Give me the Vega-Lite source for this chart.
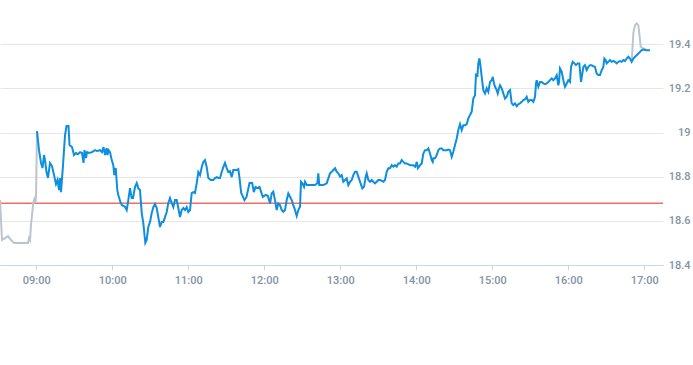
{
  "$schema": "https://vega.github.io/schema/vega-lite/v6.json",
  "width": 663,
  "height": 265,
  "autosize": "none",
  "padding": {"left": 0, "top": 0, "right": 30, "bottom": 100},
  "config": {
    "view": {"stroke": null},
    "axis": {"labelFont": "Roboto", "labelFontSize": 11, "labelFontWeight": 500, "labelColor": "#8393a3"}
  },
  "layer": [
    {
      "data": {"values": [{"prev": 18.68}]},
      "mark": {"type": "rule", "color": "#e3261c", "strokeWidth": 1},
      "encoding": {
        "y": {"field": "prev", "type": "quantitative", "scale": {"domain": [18.4, 19.6], "zero": false, "nice": false},
          "axis": {"title": null, "orient": "right", "values": [18.4, 18.6, 18.8, 19, 19.2, 19.4], "format": "~g", "grid": true, "gridColor": "#e6e6e6", "domain": false, "ticks": false, "labelAlign": "right", "labelPadding": 27}}
      }
    },
    {
      "data": {
        "values": [
          {"t": "2024-01-02T08:31:20", "p": 18.694}, {"t": "2024-01-02T08:32:55", "p": 18.513}, {"t": "2024-01-02T08:35:17", "p": 18.522}, {"t": "2024-01-02T08:37:39", "p": 18.531},
          {"t": "2024-01-02T08:40:01", "p": 18.513}, {"t": "2024-01-02T08:42:24", "p": 18.5}, {"t": "2024-01-02T08:53:27", "p": 18.5}, {"t": "2024-01-02T08:54:14", "p": 18.522},
          {"t": "2024-01-02T08:55:02", "p": 18.513}, {"t": "2024-01-02T08:55:49", "p": 18.581}, {"t": "2024-01-02T08:57:24", "p": 18.671}, {"t": "2024-01-02T08:58:11", "p": 18.694},
          {"t": "2024-01-02T08:58:58", "p": 18.708}, {"t": "2024-01-02T08:59:22", "p": 18.68}, {"t": "2024-01-02T08:59:46", "p": 18.717}, {"t": "2024-01-02T09:00:33", "p": 19.006}
        ]
      },
      "mark": {"type": "line", "color": "#bcc5ce", "strokeWidth": 2},
      "encoding": {
        "x": {"field": "t", "type": "temporal"},
        "y": {"field": "p", "type": "quantitative"}
      }
    },
    {
      "data": {
        "values": [
          {"t": "2024-01-02T16:50:02", "p": 19.32}, {"t": "2024-01-02T16:51:21", "p": 19.45}, {"t": "2024-01-02T16:52:40", "p": 19.486}, {"t": "2024-01-02T16:53:59", "p": 19.494},
          {"t": "2024-01-02T16:55:18", "p": 19.486}, {"t": "2024-01-02T16:56:37", "p": 19.418}, {"t": "2024-01-02T16:57:08", "p": 19.388}, {"t": "2024-01-02T16:59:14", "p": 19.381},
          {"t": "2024-01-02T17:01:53", "p": 19.373}
        ]
      },
      "mark": {"type": "line", "color": "#bcc5ce", "strokeWidth": 2},
      "encoding": {
        "x": {"field": "t", "type": "temporal"},
        "y": {"field": "p", "type": "quantitative"}
      }
    },
    {
      "data": {
        "values": [
          {"t": "2024-01-02T09:00:33", "p": 19.006}, {"t": "2024-01-02T09:02:08", "p": 18.92}, {"t": "2024-01-02T09:03:43", "p": 18.862}, {"t": "2024-01-02T09:04:54", "p": 18.839},
          {"t": "2024-01-02T09:06:05", "p": 18.898}, {"t": "2024-01-02T09:06:52", "p": 18.875}, {"t": "2024-01-02T09:08:03", "p": 18.821}, {"t": "2024-01-02T09:09:14", "p": 18.794},
          {"t": "2024-01-02T09:10:49", "p": 18.862}, {"t": "2024-01-02T09:12:24", "p": 18.848}, {"t": "2024-01-02T09:13:59", "p": 18.807}, {"t": "2024-01-02T09:15:33", "p": 18.767},
          {"t": "2024-01-02T09:16:44", "p": 18.785}, {"t": "2024-01-02T09:17:55", "p": 18.739}, {"t": "2024-01-02T09:18:43", "p": 18.794}, {"t": "2024-01-02T09:19:30", "p": 18.73},
          {"t": "2024-01-02T09:21:05", "p": 18.852}, {"t": "2024-01-02T09:22:40", "p": 18.988}, {"t": "2024-01-02T09:23:51", "p": 19.029}, {"t": "2024-01-02T09:25:25", "p": 19.029},
          {"t": "2024-01-02T09:26:13", "p": 18.943}, {"t": "2024-01-02T09:28:11", "p": 18.934}, {"t": "2024-01-02T09:29:46", "p": 18.898}, {"t": "2024-01-02T09:31:21", "p": 18.907},
          {"t": "2024-01-02T09:32:55", "p": 18.902}, {"t": "2024-01-02T09:34:30", "p": 18.911}, {"t": "2024-01-02T09:36:05", "p": 18.907}, {"t": "2024-01-02T09:37:16", "p": 18.862},
          {"t": "2024-01-02T09:38:03", "p": 18.92}, {"t": "2024-01-02T09:39:14", "p": 18.884}, {"t": "2024-01-02T09:40:02", "p": 18.911}, {"t": "2024-01-02T09:41:37", "p": 18.907},
          {"t": "2024-01-02T09:43:59", "p": 18.911}, {"t": "2024-01-02T09:46:21", "p": 18.92}, {"t": "2024-01-02T09:47:55", "p": 18.916}, {"t": "2024-01-02T09:50:17", "p": 18.92},
          {"t": "2024-01-02T09:51:52", "p": 18.911}, {"t": "2024-01-02T09:53:03", "p": 18.934}, {"t": "2024-01-02T09:54:14", "p": 18.898}, {"t": "2024-01-02T09:55:25", "p": 18.929},
          {"t": "2024-01-02T09:56:13", "p": 18.898}, {"t": "2024-01-02T09:57:00", "p": 18.92}, {"t": "2024-01-02T09:58:11", "p": 18.911}, {"t": "2024-01-02T09:59:32", "p": 18.875},
          {"t": "2024-01-02T10:00:47", "p": 18.852}, {"t": "2024-01-02T10:01:35", "p": 18.807}, {"t": "2024-01-02T10:02:41", "p": 18.839}, {"t": "2024-01-02T10:03:57", "p": 18.739},
          {"t": "2024-01-02T10:04:44", "p": 18.717}, {"t": "2024-01-02T10:06:38", "p": 18.681}, {"t": "2024-01-02T10:07:39", "p": 18.671}, {"t": "2024-01-02T10:10:01", "p": 18.664},
          {"t": "2024-01-02T10:11:22", "p": 18.649}, {"t": "2024-01-02T10:12:24", "p": 18.685}, {"t": "2024-01-02T10:13:58", "p": 18.748}, {"t": "2024-01-02T10:15:19", "p": 18.703},
          {"t": "2024-01-02T10:16:20", "p": 18.703}, {"t": "2024-01-02T10:17:55", "p": 18.753}, {"t": "2024-01-02T10:19:16", "p": 18.771}, {"t": "2024-01-02T10:20:31", "p": 18.748},
          {"t": "2024-01-02T10:21:52", "p": 18.739}, {"t": "2024-01-02T10:23:13", "p": 18.635}, {"t": "2024-01-02T10:24:28", "p": 18.59}, {"t": "2024-01-02T10:25:16", "p": 18.545},
          {"t": "2024-01-02T10:26:03", "p": 18.5}, {"t": "2024-01-02T10:27:09", "p": 18.513}, {"t": "2024-01-02T10:28:25", "p": 18.572}, {"t": "2024-01-02T10:29:46", "p": 18.595},
          {"t": "2024-01-02T10:31:06", "p": 18.635}, {"t": "2024-01-02T10:32:22", "p": 18.662}, {"t": "2024-01-02T10:33:43", "p": 18.676}, {"t": "2024-01-02T10:35:03", "p": 18.658},
          {"t": "2024-01-02T10:36:19", "p": 18.617}, {"t": "2024-01-02T10:37:39", "p": 18.572}, {"t": "2024-01-02T10:39:00", "p": 18.595}, {"t": "2024-01-02T10:40:16", "p": 18.595},
          {"t": "2024-01-02T10:41:36", "p": 18.617}, {"t": "2024-01-02T10:42:57", "p": 18.64}, {"t": "2024-01-02T10:44:13", "p": 18.681}, {"t": "2024-01-02T10:45:33", "p": 18.703},
          {"t": "2024-01-02T10:46:54", "p": 18.681}, {"t": "2024-01-02T10:48:09", "p": 18.662}, {"t": "2024-01-02T10:49:30", "p": 18.694}, {"t": "2024-01-02T10:50:51", "p": 18.694},
          {"t": "2024-01-02T10:52:06", "p": 18.658}, {"t": "2024-01-02T10:53:27", "p": 18.617}, {"t": "2024-01-02T10:54:47", "p": 18.649}, {"t": "2024-01-02T10:56:03", "p": 18.658},
          {"t": "2024-01-02T10:57:24", "p": 18.649}, {"t": "2024-01-02T10:58:44", "p": 18.662}, {"t": "2024-01-02T11:00:00", "p": 18.64}, {"t": "2024-01-02T11:01:21", "p": 18.649},
          {"t": "2024-01-02T11:02:41", "p": 18.726}, {"t": "2024-01-02T11:03:57", "p": 18.73}, {"t": "2024-01-02T11:05:17", "p": 18.726}, {"t": "2024-01-02T11:06:38", "p": 18.771},
          {"t": "2024-01-02T11:07:54", "p": 18.821}, {"t": "2024-01-02T11:09:14", "p": 18.807}, {"t": "2024-01-02T11:10:35", "p": 18.843}, {"t": "2024-01-02T11:11:50", "p": 18.866},
          {"t": "2024-01-02T11:13:11", "p": 18.875}, {"t": "2024-01-02T11:14:32", "p": 18.843}, {"t": "2024-01-02T11:15:47", "p": 18.794}, {"t": "2024-01-02T11:17:41", "p": 18.785},
          {"t": "2024-01-02T11:19:44", "p": 18.785}, {"t": "2024-01-02T11:21:05", "p": 18.794}, {"t": "2024-01-02T11:22:25", "p": 18.798}, {"t": "2024-01-02T11:23:41", "p": 18.794},
          {"t": "2024-01-02T11:25:02", "p": 18.794}, {"t": "2024-01-02T11:26:22", "p": 18.821}, {"t": "2024-01-02T11:27:38", "p": 18.843}, {"t": "2024-01-02T11:28:58", "p": 18.862},
          {"t": "2024-01-02T11:30:19", "p": 18.839}, {"t": "2024-01-02T11:31:35", "p": 18.821}, {"t": "2024-01-02T11:32:55", "p": 18.825}, {"t": "2024-01-02T11:34:16", "p": 18.798},
          {"t": "2024-01-02T11:35:32", "p": 18.83}, {"t": "2024-01-02T11:38:13", "p": 18.83}, {"t": "2024-01-02T11:39:28", "p": 18.834}, {"t": "2024-01-02T11:40:25", "p": 18.794},
          {"t": "2024-01-02T11:41:46", "p": 18.726}, {"t": "2024-01-02T11:44:22", "p": 18.694}, {"t": "2024-01-02T11:45:57", "p": 18.708}, {"t": "2024-01-02T11:48:19", "p": 18.771},
          {"t": "2024-01-02T11:50:27", "p": 18.771}, {"t": "2024-01-02T11:51:43", "p": 18.73}, {"t": "2024-01-02T11:53:03", "p": 18.753}, {"t": "2024-01-02T11:54:38", "p": 18.748},
          {"t": "2024-01-02T11:56:13", "p": 18.753}, {"t": "2024-01-02T11:57:33", "p": 18.73}, {"t": "2024-01-02T11:58:49", "p": 18.708}, {"t": "2024-01-02T12:00:57", "p": 18.717},
          {"t": "2024-01-02T12:02:46", "p": 18.713}, {"t": "2024-01-02T12:04:35", "p": 18.679}, {"t": "2024-01-02T12:05:50", "p": 18.724}, {"t": "2024-01-02T12:07:06", "p": 18.732},
          {"t": "2024-01-02T12:08:26", "p": 18.694}, {"t": "2024-01-02T12:09:47", "p": 18.649}, {"t": "2024-01-02T12:11:03", "p": 18.679}, {"t": "2024-01-02T12:12:23", "p": 18.671},
          {"t": "2024-01-02T12:13:44", "p": 18.649}, {"t": "2024-01-02T12:15:00", "p": 18.641}, {"t": "2024-01-02T12:16:20", "p": 18.649}, {"t": "2024-01-02T12:17:41", "p": 18.694},
          {"t": "2024-01-02T12:18:57", "p": 18.724}, {"t": "2024-01-02T12:20:17", "p": 18.709}, {"t": "2024-01-02T12:21:38", "p": 18.694}, {"t": "2024-01-02T12:22:54", "p": 18.671},
          {"t": "2024-01-02T12:24:14", "p": 18.649}, {"t": "2024-01-02T12:25:35", "p": 18.622}, {"t": "2024-01-02T12:26:51", "p": 18.649}, {"t": "2024-01-02T12:28:11", "p": 18.664},
          {"t": "2024-01-02T12:28:58", "p": 18.777}, {"t": "2024-01-02T12:30:00", "p": 18.77}, {"t": "2024-01-02T12:31:20", "p": 18.754}, {"t": "2024-01-02T12:32:08", "p": 18.777},
          {"t": "2024-01-02T12:33:28", "p": 18.762}, {"t": "2024-01-02T12:36:04", "p": 18.762}, {"t": "2024-01-02T12:40:01", "p": 18.762}, {"t": "2024-01-02T12:41:50", "p": 18.77},
          {"t": "2024-01-02T12:42:38", "p": 18.815}, {"t": "2024-01-02T12:43:25", "p": 18.762}, {"t": "2024-01-02T12:46:35", "p": 18.762}, {"t": "2024-01-02T12:49:16", "p": 18.77},
          {"t": "2024-01-02T12:50:32", "p": 18.792}, {"t": "2024-01-02T12:51:52", "p": 18.815}, {"t": "2024-01-02T12:53:13", "p": 18.822}, {"t": "2024-01-02T12:54:29", "p": 18.83},
          {"t": "2024-01-02T12:55:49", "p": 18.838}, {"t": "2024-01-02T12:57:10", "p": 18.822}, {"t": "2024-01-02T12:58:26", "p": 18.815}, {"t": "2024-01-02T12:59:46", "p": 18.8},
          {"t": "2024-01-02T13:01:07", "p": 18.807}, {"t": "2024-01-02T13:02:22", "p": 18.777}, {"t": "2024-01-02T13:03:43", "p": 18.785}, {"t": "2024-01-02T13:05:03", "p": 18.792},
          {"t": "2024-01-02T13:06:19", "p": 18.762}, {"t": "2024-01-02T13:07:40", "p": 18.777}, {"t": "2024-01-02T13:09:00", "p": 18.785}, {"t": "2024-01-02T13:10:16", "p": 18.807},
          {"t": "2024-01-02T13:11:36", "p": 18.822}, {"t": "2024-01-02T13:12:57", "p": 18.822}, {"t": "2024-01-02T13:14:13", "p": 18.8}, {"t": "2024-01-02T13:15:33", "p": 18.777},
          {"t": "2024-01-02T13:17:22", "p": 18.747}, {"t": "2024-01-02T13:18:43", "p": 18.754}, {"t": "2024-01-02T13:20:03", "p": 18.8}, {"t": "2024-01-02T13:20:50", "p": 18.815},
          {"t": "2024-01-02T13:22:07", "p": 18.785}, {"t": "2024-01-02T13:23:27", "p": 18.777}, {"t": "2024-01-02T13:24:48", "p": 18.785}, {"t": "2024-01-02T13:26:03", "p": 18.777},
          {"t": "2024-01-02T13:27:24", "p": 18.77}, {"t": "2024-01-02T13:28:44", "p": 18.777}, {"t": "2024-01-02T13:30:00", "p": 18.785}, {"t": "2024-01-02T13:31:21", "p": 18.785},
          {"t": "2024-01-02T13:33:57", "p": 18.777}, {"t": "2024-01-02T13:35:17", "p": 18.785}, {"t": "2024-01-02T13:36:38", "p": 18.822}, {"t": "2024-01-02T13:37:54", "p": 18.838},
          {"t": "2024-01-02T13:39:14", "p": 18.838}, {"t": "2024-01-02T13:40:35", "p": 18.852}, {"t": "2024-01-02T13:41:51", "p": 18.845}, {"t": "2024-01-02T13:43:11", "p": 18.852},
          {"t": "2024-01-02T13:44:32", "p": 18.845}, {"t": "2024-01-02T13:45:47", "p": 18.86}, {"t": "2024-01-02T13:47:08", "p": 18.86}, {"t": "2024-01-02T13:48:28", "p": 18.875},
          {"t": "2024-01-02T13:49:44", "p": 18.867}, {"t": "2024-01-02T13:51:05", "p": 18.86}, {"t": "2024-01-02T13:52:25", "p": 18.86}, {"t": "2024-01-02T13:55:06", "p": 18.852},
          {"t": "2024-01-02T13:57:44", "p": 18.852}, {"t": "2024-01-02T13:59:04", "p": 18.845}, {"t": "2024-01-02T14:00:25", "p": 18.867}, {"t": "2024-01-02T14:01:12", "p": 18.838},
          {"t": "2024-01-02T14:02:14", "p": 18.845}, {"t": "2024-01-02T14:02:55", "p": 18.852}, {"t": "2024-01-02T14:04:16", "p": 18.86}, {"t": "2024-01-02T14:05:32", "p": 18.905},
          {"t": "2024-01-02T14:06:52", "p": 18.92}, {"t": "2024-01-02T14:08:13", "p": 18.92}, {"t": "2024-01-02T14:09:29", "p": 18.928}, {"t": "2024-01-02T14:10:49", "p": 18.905},
          {"t": "2024-01-02T14:12:10", "p": 18.875}, {"t": "2024-01-02T14:12:57", "p": 18.867}, {"t": "2024-01-02T14:13:26", "p": 18.883}, {"t": "2024-01-02T14:14:46", "p": 18.883},
          {"t": "2024-01-02T14:16:07", "p": 18.898}, {"t": "2024-01-02T14:17:22", "p": 18.92}, {"t": "2024-01-02T14:18:43", "p": 18.928}, {"t": "2024-01-02T14:20:04", "p": 18.928},
          {"t": "2024-01-02T14:21:19", "p": 18.92}, {"t": "2024-01-02T14:22:40", "p": 18.92}, {"t": "2024-01-02T14:24:00", "p": 18.92}, {"t": "2024-01-02T14:25:16", "p": 18.923},
          {"t": "2024-01-02T14:26:37", "p": 18.92}, {"t": "2024-01-02T14:27:57", "p": 18.89}, {"t": "2024-01-02T14:29:13", "p": 18.913}, {"t": "2024-01-02T14:30:33", "p": 18.943},
          {"t": "2024-01-02T14:31:54", "p": 18.973}, {"t": "2024-01-02T14:33:10", "p": 19.011}, {"t": "2024-01-02T14:34:30", "p": 19.038}, {"t": "2024-01-02T14:35:51", "p": 19.011},
          {"t": "2024-01-02T14:37:07", "p": 19.033}, {"t": "2024-01-02T14:38:27", "p": 19.033}, {"t": "2024-01-02T14:39:48", "p": 19.038}, {"t": "2024-01-02T14:41:04", "p": 19.064},
          {"t": "2024-01-02T14:42:24", "p": 19.079}, {"t": "2024-01-02T14:43:44", "p": 19.094}, {"t": "2024-01-02T14:45:00", "p": 19.154}, {"t": "2024-01-02T14:46:21", "p": 19.169},
          {"t": "2024-01-02T14:47:08", "p": 19.267}, {"t": "2024-01-02T14:48:10", "p": 19.252}, {"t": "2024-01-02T14:48:57", "p": 19.313}, {"t": "2024-01-02T14:49:45", "p": 19.335},
          {"t": "2024-01-02T14:50:17", "p": 19.32}, {"t": "2024-01-02T14:51:38", "p": 19.252}, {"t": "2024-01-02T14:52:54", "p": 19.192}, {"t": "2024-01-02T14:54:14", "p": 19.177},
          {"t": "2024-01-02T14:55:35", "p": 19.2}, {"t": "2024-01-02T14:56:51", "p": 19.184}, {"t": "2024-01-02T14:58:11", "p": 19.229}, {"t": "2024-01-02T14:59:32", "p": 19.237},
          {"t": "2024-01-02T15:00:19", "p": 19.252}, {"t": "2024-01-02T15:01:21", "p": 19.222}, {"t": "2024-01-02T15:02:08", "p": 19.207}, {"t": "2024-01-02T15:03:29", "p": 19.192},
          {"t": "2024-01-02T15:04:16", "p": 19.177}, {"t": "2024-01-02T15:05:18", "p": 19.2}, {"t": "2024-01-02T15:06:05", "p": 19.214}, {"t": "2024-01-02T15:07:26", "p": 19.2},
          {"t": "2024-01-02T15:08:41", "p": 19.177}, {"t": "2024-01-02T15:10:02", "p": 19.154}, {"t": "2024-01-02T15:11:22", "p": 19.162}, {"t": "2024-01-02T15:12:38", "p": 19.184},
          {"t": "2024-01-02T15:13:59", "p": 19.192}, {"t": "2024-01-02T15:15:19", "p": 19.132}, {"t": "2024-01-02T15:16:35", "p": 19.124}, {"t": "2024-01-02T15:17:56", "p": 19.132},
          {"t": "2024-01-02T15:19:16", "p": 19.119}, {"t": "2024-01-02T15:20:32", "p": 19.128}, {"t": "2024-01-02T15:21:52", "p": 19.132}, {"t": "2024-01-02T15:23:13", "p": 19.139},
          {"t": "2024-01-02T15:24:28", "p": 19.147}, {"t": "2024-01-02T15:25:49", "p": 19.15}, {"t": "2024-01-02T15:27:09", "p": 19.162}, {"t": "2024-01-02T15:28:25", "p": 19.139},
          {"t": "2024-01-02T15:29:46", "p": 19.147}, {"t": "2024-01-02T15:31:06", "p": 19.147}, {"t": "2024-01-02T15:32:22", "p": 19.139}, {"t": "2024-01-02T15:33:43", "p": 19.162},
          {"t": "2024-01-02T15:34:30", "p": 19.222}, {"t": "2024-01-02T15:35:03", "p": 19.237}, {"t": "2024-01-02T15:36:19", "p": 19.207}, {"t": "2024-01-02T15:37:39", "p": 19.229},
          {"t": "2024-01-02T15:39:00", "p": 19.229}, {"t": "2024-01-02T15:40:16", "p": 19.222}, {"t": "2024-01-02T15:41:36", "p": 19.219}, {"t": "2024-01-02T15:42:57", "p": 19.222},
          {"t": "2024-01-02T15:44:13", "p": 19.229}, {"t": "2024-01-02T15:45:33", "p": 19.237}, {"t": "2024-01-02T15:46:54", "p": 19.245}, {"t": "2024-01-02T15:48:09", "p": 19.237},
          {"t": "2024-01-02T15:49:30", "p": 19.245}, {"t": "2024-01-02T15:50:51", "p": 19.26}, {"t": "2024-01-02T15:52:06", "p": 19.214}, {"t": "2024-01-02T15:52:40", "p": 19.229},
          {"t": "2024-01-02T15:53:27", "p": 19.29}, {"t": "2024-01-02T15:54:48", "p": 19.275}, {"t": "2024-01-02T15:56:03", "p": 19.237}, {"t": "2024-01-02T15:57:24", "p": 19.207},
          {"t": "2024-01-02T15:58:45", "p": 19.222}, {"t": "2024-01-02T16:00:00", "p": 19.237}, {"t": "2024-01-02T16:01:21", "p": 19.229}, {"t": "2024-01-02T16:02:08", "p": 19.297},
          {"t": "2024-01-02T16:03:27", "p": 19.32}, {"t": "2024-01-02T16:04:46", "p": 19.313}, {"t": "2024-01-02T16:06:05", "p": 19.305}, {"t": "2024-01-02T16:07:24", "p": 19.313},
          {"t": "2024-01-02T16:08:43", "p": 19.313}, {"t": "2024-01-02T16:10:02", "p": 19.229}, {"t": "2024-01-02T16:11:05", "p": 19.267}, {"t": "2024-01-02T16:11:52", "p": 19.297},
          {"t": "2024-01-02T16:13:11", "p": 19.305}, {"t": "2024-01-02T16:14:30", "p": 19.282}, {"t": "2024-01-02T16:15:49", "p": 19.297}, {"t": "2024-01-02T16:17:08", "p": 19.305},
          {"t": "2024-01-02T16:18:27", "p": 19.305}, {"t": "2024-01-02T16:19:46", "p": 19.3}, {"t": "2024-01-02T16:21:04", "p": 19.297}, {"t": "2024-01-02T16:22:23", "p": 19.267},
          {"t": "2024-01-02T16:23:42", "p": 19.26}, {"t": "2024-01-02T16:25:01", "p": 19.26}, {"t": "2024-01-02T16:26:20", "p": 19.282}, {"t": "2024-01-02T16:27:39", "p": 19.297},
          {"t": "2024-01-02T16:28:26", "p": 19.335}, {"t": "2024-01-02T16:29:30", "p": 19.328}, {"t": "2024-01-02T16:30:17", "p": 19.313}, {"t": "2024-01-02T16:31:36", "p": 19.32},
          {"t": "2024-01-02T16:32:55", "p": 19.328}, {"t": "2024-01-02T16:34:14", "p": 19.32}, {"t": "2024-01-02T16:35:33", "p": 19.324}, {"t": "2024-01-02T16:36:52", "p": 19.32},
          {"t": "2024-01-02T16:38:11", "p": 19.313}, {"t": "2024-01-02T16:39:30", "p": 19.32}, {"t": "2024-01-02T16:40:49", "p": 19.323}, {"t": "2024-01-02T16:42:08", "p": 19.32},
          {"t": "2024-01-02T16:43:27", "p": 19.328}, {"t": "2024-01-02T16:44:46", "p": 19.324}, {"t": "2024-01-02T16:46:05", "p": 19.335}, {"t": "2024-01-02T16:47:24", "p": 19.343},
          {"t": "2024-01-02T16:48:43", "p": 19.335}, {"t": "2024-01-02T16:50:02", "p": 19.32}, {"t": "2024-01-02T16:51:21", "p": 19.335}, {"t": "2024-01-02T16:52:40", "p": 19.343},
          {"t": "2024-01-02T16:53:59", "p": 19.35}, {"t": "2024-01-02T16:55:18", "p": 19.358}, {"t": "2024-01-02T16:56:37", "p": 19.365}, {"t": "2024-01-02T16:57:56", "p": 19.373},
          {"t": "2024-01-02T16:59:14", "p": 19.376}, {"t": "2024-01-02T17:01:53", "p": 19.373}, {"t": "2024-01-02T17:04:31", "p": 19.373}
        ]
      },
      "mark": {"type": "line", "color": "#0d8ede", "strokeWidth": 2},
      "encoding": {
        "x": {
          "field": "t", "type": "temporal",
          "scale": {"domain": [{"year": 2024, "month": 1, "date": 2, "hours": 8, "minutes": 31, "seconds": 20}, {"year": 2024, "month": 1, "date": 2, "hours": 17, "minutes": 14, "seconds": 45}]},
          "axis": {"title": null, "format": "%H:%M",
            "values": [
              {"year": 2024, "month": 1, "date": 2, "hours": 9}, {"year": 2024, "month": 1, "date": 2, "hours": 10}, {"year": 2024, "month": 1, "date": 2, "hours": 11},
              {"year": 2024, "month": 1, "date": 2, "hours": 12}, {"year": 2024, "month": 1, "date": 2, "hours": 13}, {"year": 2024, "month": 1, "date": 2, "hours": 14},
              {"year": 2024, "month": 1, "date": 2, "hours": 15}, {"year": 2024, "month": 1, "date": 2, "hours": 16}, {"year": 2024, "month": 1, "date": 2, "hours": 17}
            ],
            "grid": false, "domainColor": "#ccd6e0", "tickColor": "#ccd6e0", "tickSize": 5, "labelPadding": 4}
        },
        "y": {"field": "p", "type": "quantitative"}
      }
    }
  ]
}
